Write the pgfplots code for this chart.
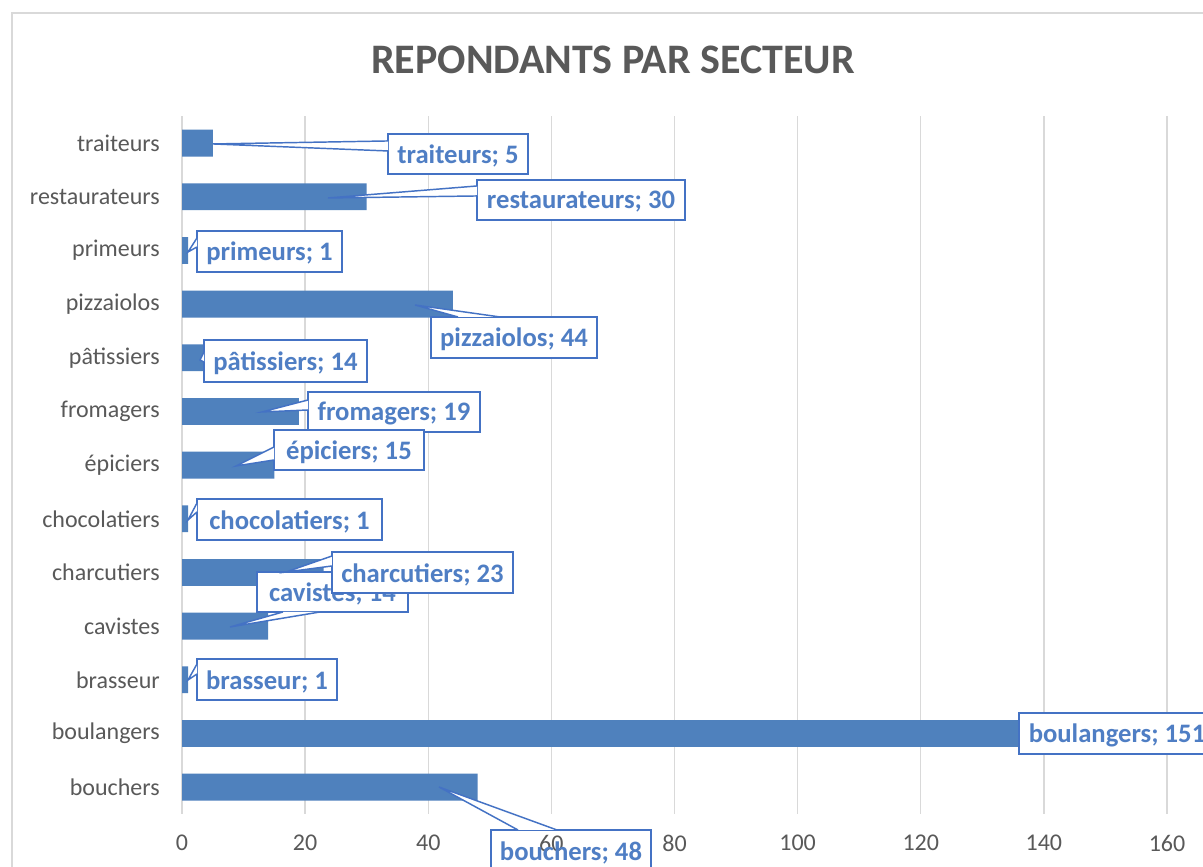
\documentclass[border=0pt]{standalone}
\usepackage{pgfplots}
\pgfplotsset{compat=1.18}
\usepackage{fontspec}
\setmainfont{Carlito}
\definecolor{barblue}{HTML}{4F81BD}
\definecolor{lblblue}{HTML}{4F7EC4}
\definecolor{bordblue}{HTML}{4472C4}
\definecolor{gridgrey}{HTML}{D9D9D9}
\definecolor{txtgrey}{HTML}{595959}
\newcommand{\px}[2]{(axis cs:{((#1)-182)/6.15625},{(787.17-(#2))/53.67})}
\newcommand{\cbox}[5]{%
  \fill[white] \px{#1}{#2} rectangle \px{#3}{#4};
  \cboxnf{#1}{#2}{#3}{#4}{#5}}
\newcommand{\cboxnf}[5]{%
  \draw[bordblue, line width=1.1pt] \px{#1}{#2} rectangle \px{#3}{#4};
  \node[text=lblblue, font=\fontsize{20}{24}\selectfont\bfseries, inner sep=0pt] at \px{(#1+#3)/2}{(#2+#4)/2+2} {#5};}
\newcommand{\cwedge}[6]{%
  \fill[white] \px{#3}{#4} -- \px{#1}{#2} -- \px{#5}{#6} -- cycle;
  \draw[bordblue, line width=1.1pt, line join=miter] \px{#3}{#4} -- \px{#1}{#2} -- \px{#5}{#6};}
\begin{document}
\begin{tikzpicture}[x=0.75pt,y=0.75pt]
\useasboundingbox (0,0) rectangle (1203,867);
\clip (0,0) rectangle (1203,867);
\fill[white] (0,0) rectangle (1203,867);
\draw[gridgrey, line width=1.1pt] (12,-5) -- (12,854) -- (1210,854);
\node[text=txtgrey, font=\fontsize{31.5}{36}\selectfont\bfseries, inner sep=0pt] at (613,807) {REPONDANTS PAR SECTEUR};
\begin{axis}[
  at={(136.5pt,39.75pt)}, anchor=south west,
  scale only axis, width=808.0pt, height=523.3pt,
  xmin=0, xmax=175, ymin=-0.5, ymax=12.5,
  xbar, bar width=0.5,
  clip=false,
  axis line style={draw=none},
  major tick length=0pt,
  xmajorgrids, major grid style={gridgrey, line width=1.1pt},
  xtick={0,20,...,160},
  ytick={0,...,12},
  yticklabels={bouchers,boulangers,brasseur,cavistes,charcutiers,chocolatiers,épiciers,fromagers,pâtissiers,pizzaiolos,primeurs,restaurateurs,traiteurs},
  ticklabel style={text=txtgrey, font=\fontsize{18}{21}\selectfont},
  /pgf/number format/assume math mode=true,
  xticklabel style={anchor=center, inner sep=0pt, yshift=-21.75pt},
  yticklabel style={anchor=east, inner sep=0pt, xshift=-16.5pt},
]
\addplot[fill=barblue, draw=none] coordinates {
(48,0) (151,1) (1,2) (14,3) (23,4) (1,5) (15,6) (19,7) (14,8) (44,9) (1,10) (30,11) (5,12)};
% data-label callouts
\cbox{388}{134}{528}{174}{traiteurs; 5}
\cwedge{213}{144}{388}{141}{388}{151}
\cbox{477}{180}{685}{220}{restaurateurs; 30}
\cwedge{328}{198}{477}{186}{477}{196}
\cbox{197}{231}{342}{272}{primeurs; 1}
\cwedge{188}{252}{197}{238}{197}{247}
\cbox{431}{317}{597}{358}{pizzaiolos; 44}
\cwedge{415}{305}{458}{317}{500}{317}
\cbox{204}{340}{367}{382}{pâtissiers; 14}
\cwedge{200}{360}{204}{352}{204}{362}
\cbox{308}{392}{480}{432}{fromagers; 19}
\cwedge{262}{412}{308}{400}{308}{410}
\cbox{274}{430}{424}{470}{épiciers; 15}
\cwedge{236}{466}{274}{447}{274}{460}
\cbox{197}{499}{382}{540}{chocolatiers; 1}
\cwedge{188}{520}{197}{503}{197}{512}
\cbox{257}{572}{408}{612}{cavistes; 14}
\cwedge{230}{627}{283}{612}{320}{612}
\cbox{332}{552}{513}{593}{charcutiers; 23}
\cwedge{286}{572}{332}{556}{332}{566}
\cbox{197}{659}{337}{700}{brasseur; 1}
\cwedge{188}{680}{197}{664}{197}{674}
\cbox{1019}{713}{1215}{754}{boulangers; 151}
\cboxnf{491}{830}{651}{871}{bouchers; 48}
\cwedge{439}{787}{518}{830}{557}{830}
\end{axis}
\end{tikzpicture}
\end{document}
